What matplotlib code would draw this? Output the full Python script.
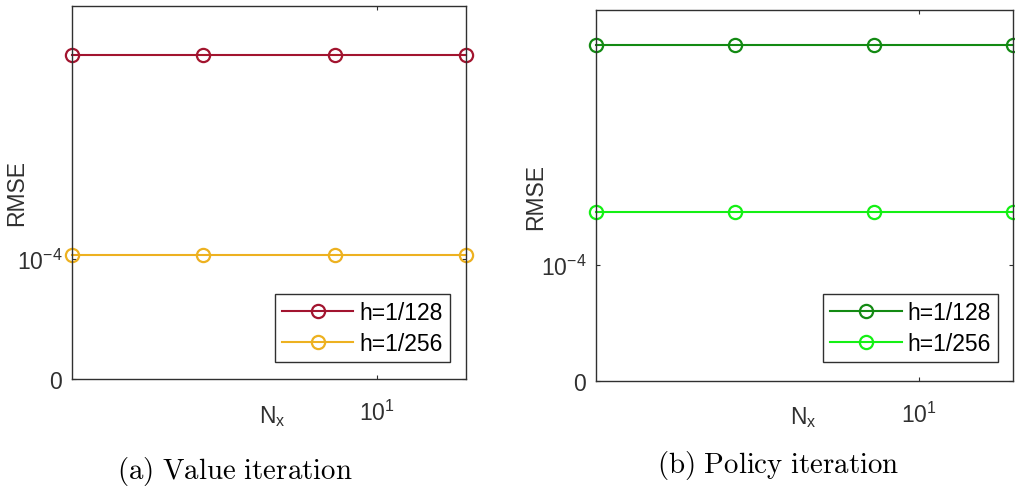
import matplotlib
matplotlib.use("Agg")
import matplotlib.pyplot as plt

# ---------------- DATA ----------------
nx = [2, 4, 8, 16]
labels = ["h=1/128", "h=1/256"]

value_rmse_128 = [2.69e-4, 2.69e-4, 2.69e-4, 2.69e-4]
value_rmse_256 = [1.03e-4, 1.03e-4, 1.03e-4, 1.03e-4]
policy_rmse_128 = [2.90e-4, 2.90e-4, 2.90e-4, 2.90e-4]
policy_rmse_256 = [1.46e-4, 1.46e-4, 1.46e-4, 1.46e-4]

value_colors = ["#A2142F", "#EDB120"]
policy_colors = ["#138A13", "#14F014"]

captions = [r"$\mathrm{(a)\ Value\ iteration}$",
            r"$\mathrm{(b)\ Policy\ iteration}$"]

plt.rcParams["font.family"] = ["Liberation Sans", "DejaVu Sans"]
plt.rcParams["mathtext.fontset"] = "custom"
plt.rcParams["mathtext.rm"] = "Liberation Sans"

FS = 16.5
AX_COLOR = "#303030"

fig = plt.figure(figsize=(10.15, 4.89), dpi=100)
ax1 = fig.add_axes([0.0709, 0.2229, 0.3882, 0.7628])
ax2 = fig.add_axes([0.5872, 0.2188, 0.4108, 0.7587])


def style_axes(ax, series, colors, ylim_top, ylab_x, legend_anchor):
    for vals, col, lab in zip(series, colors, labels):
        ax.plot(nx, vals, color=col, lw=1.5, marker="o", markersize=9.5,
                markerfacecolor="none", markeredgewidth=1.6, label=lab,
                clip_on=False)
    ax.set_xscale("log")
    ax.set_xlim(nx[0], nx[-1])
    ax.set_ylim(0, ylim_top)
    ax.set_xticks([10])
    ax.set_xticklabels([r"10$^{\mathregular{1}}$"])
    ax.xaxis.set_minor_locator(matplotlib.ticker.NullLocator())
    ax.set_yticks([0, 1e-4])
    ax.set_yticklabels(["0", r"10$^{\mathregular{-4}}$"])
    ax.tick_params(axis="both", direction="in", length=3, width=0.8,
                   colors=AX_COLOR, labelsize=FS, top=True, right=True)
    ax.tick_params(axis="x", pad=15)
    ax.tick_params(axis="y", pad=7)
    for sp in ax.spines.values():
        sp.set_color(AX_COLOR)
        sp.set_linewidth(1.0)
    ax.set_ylabel("RMSE", fontsize=FS, color=AX_COLOR)
    ax.yaxis.set_label_coords(ylab_x, 0.5)
    leg = ax.legend(loc="lower right", bbox_to_anchor=legend_anchor,
                    borderaxespad=0, fontsize=FS, handlelength=3.1,
                    handletextpad=0.25, fancybox=False, framealpha=1,
                    edgecolor=AX_COLOR, borderpad=0.32, labelspacing=0.32)
    leg.get_frame().set_linewidth(1.0)


style_axes(ax1, [value_rmse_128, value_rmse_256], value_colors, 3.1e-4,
           -0.112, (0.959, 0.0456))
style_axes(ax2, [policy_rmse_128, policy_rmse_256], policy_colors, 3.2e-4,
           -0.118, (0.964, 0.051))

# N_x labels
ax1.text(0.508, -0.097, r"N$_{\mathregular{x}}$", transform=ax1.transAxes,
         ha="center", va="center", fontsize=FS, color=AX_COLOR)
ax2.text(0.496, -0.097, r"N$_{\mathregular{x}}$", transform=ax2.transAxes,
         ha="center", va="center", fontsize=FS, color=AX_COLOR)

# captions
fig.text(235 / 1015, 0.035, captions[0],
         ha="center", va="center", fontsize=20.8, math_fontfamily="cm")
fig.text(778 / 1015, 0.049, captions[1],
         ha="center", va="center", fontsize=20.8, math_fontfamily="cm")

fig.savefig("out.png", dpi=100)
